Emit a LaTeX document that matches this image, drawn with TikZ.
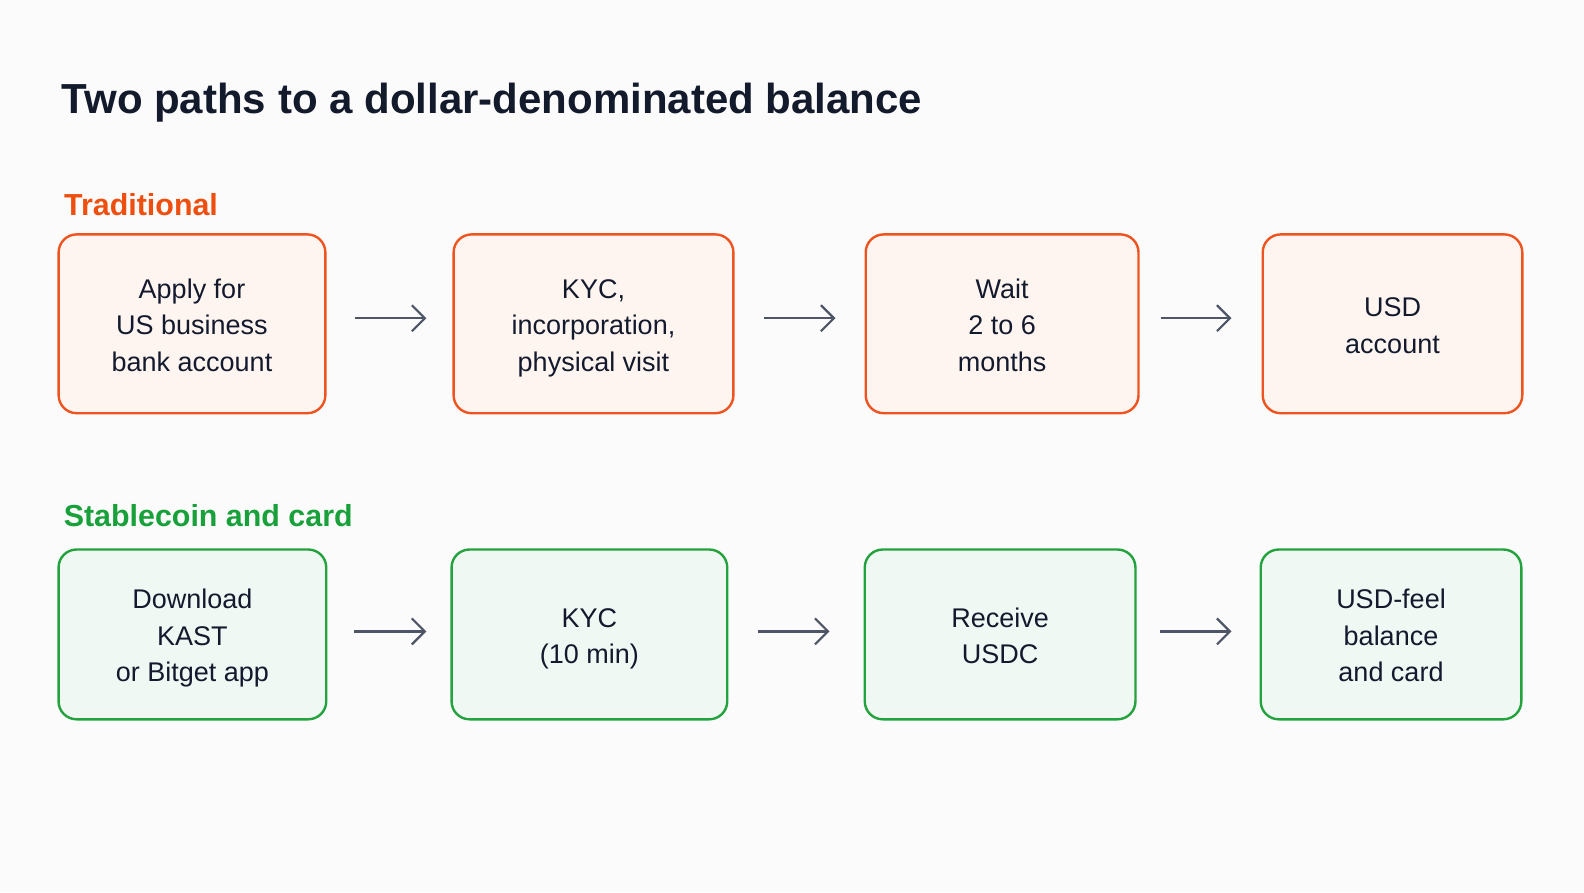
\documentclass[tikz,border=0pt]{standalone}
\usepackage{fontspec}
\setmainfont{Liberation Sans}
\usetikzlibrary{arrows.meta}
\definecolor{bgc}{HTML}{FBFBFB}
\definecolor{titlec}{HTML}{131A2C}
\definecolor{textc}{HTML}{141A2E}
\definecolor{orng}{HTML}{EE5420}
\definecolor{orngtxt}{HTML}{EE4F0F}
\definecolor{orngfill}{HTML}{FFF5F0}
\definecolor{grn}{HTML}{23A23E}
\definecolor{grntxt}{HTML}{18A03A}
\definecolor{grnfill}{HTML}{EFF8F2}
\definecolor{arrc}{HTML}{4D5566}
\newcommand{\firstline}{\rule{0pt}{29pt}}
\tikzset{
  stepbox/.style={rounded corners=18pt, line width=2.4pt, align=center, text=textc,
    font=\fontsize{27}{36.5}\selectfont, inner sep=0pt,
    execute at end node={\rule[-7pt]{0pt}{7pt}}},
  tradbox/.style={stepbox, draw=orng, fill=orngfill},
  stabbox/.style={stepbox, draw=grn, fill=grnfill},
  arr/.style={draw=arrc, line width=2.2pt, -{Straight Barb[length=13pt,width=26pt,line width=2.2pt]}},
  lbl/.style={anchor=base west, inner sep=0pt, font=\fontsize{30.4}{36}\selectfont\bfseries}
}
\begin{document}
\begin{tikzpicture}[x=1pt,y=-1pt]
\useasboundingbox (0,0) rectangle (1584,892);
\fill[bgc] (0,0) rectangle (1584,892);
\node[anchor=base west, inner sep=0pt, text=titlec, font=\fontsize{42}{50}\selectfont\bfseries] (title) at (61.6,113) {Two paths to a dollar-denominated balance};
\node[lbl, text=orngtxt] (tradlbl) at (64,215) {Traditional};
\node[lbl, text=grntxt] (stablbl) at (63.6,526) {Stablecoin and card};
% traditional row
\node[tradbox, minimum width=266.7pt, minimum height=178.8pt] (t1) at (192,323.8) {\firstline Apply for\\US business\\bank account};
\node[tradbox, minimum width=279.8pt, minimum height=178.8pt] (t2) at (593.5,323.8) {\firstline KYC,\\incorporation,\\physical visit};
\node[tradbox, minimum width=272.8pt, minimum height=178.8pt] (t3) at (1002.1,323.8) {\firstline Wait\\2 to 6\\months};
\node[tradbox, minimum width=259.6pt, minimum height=178.8pt] (t4) at (1392.5,323.8) {\firstline USD\\account};
% stablecoin row
\node[stabbox, minimum width=267.7pt, minimum height=169.8pt] (s1) at (192.4,634.4) {\firstline Download\\KAST\\or Bitget app};
\node[stabbox, minimum width=275.7pt, minimum height=169.8pt] (s2) at (589.4,634.4) {\firstline KYC\\(10 min)};
\node[stabbox, minimum width=270.7pt, minimum height=169.8pt] (s3) at (1000.1,634.4) {\firstline Receive\\USDC};
\node[stabbox, minimum width=260.6pt, minimum height=169.8pt] (s4) at (1391,634.4) {\firstline USD-feel\\balance\\and card};
% arrows
\draw[arr, shorten <=28pt, shorten >=26pt] ([yshift=5.6pt]t1.east) -- ([yshift=5.6pt]t2.west);
\draw[arr, shorten <=29pt, shorten >=29pt] ([yshift=5.6pt]t2.east) -- ([yshift=5.6pt]t3.west);
\draw[arr, shorten <=21pt, shorten >=30pt] ([yshift=5.6pt]t3.east) -- ([yshift=5.6pt]t4.west);
\draw[arr, shorten <=27pt, shorten >=24pt] ([yshift=3pt]s1.east) -- ([yshift=3pt]s2.west);
\draw[arr, shorten <=30pt, shorten >=34pt] ([yshift=3pt]s2.east) -- ([yshift=3pt]s3.west);
\draw[arr, shorten <=23pt, shorten >=28pt] ([yshift=3pt]s3.east) -- ([yshift=3pt]s4.west);
\end{tikzpicture}
\end{document}
